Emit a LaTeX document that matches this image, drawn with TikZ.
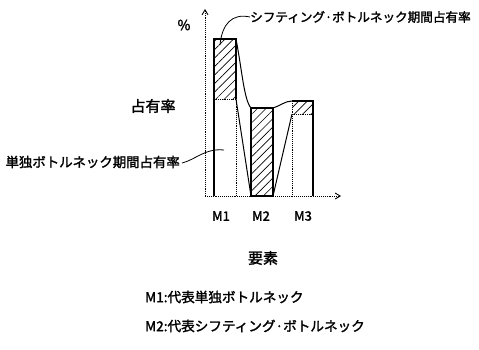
\documentclass[tikz,border=0pt]{standalone}
\usepackage{fontspec}
\setmainfont{Noto Sans CJK JP}[FakeBold=1.8]
\usetikzlibrary{patterns.meta,arrows.meta}
\begin{document}
\begin{tikzpicture}[x=1pt,y=-1pt,
  lbl/.style={inner sep=0pt,font=\fontsize{#1}{#1}\selectfont},
  lbl/.default=13,
  hatch/.style={pattern={Lines[angle=45,distance=6pt,line width=0.6pt]}},
  solidln/.style={line width=1.1pt},
  dotln/.style={line width=0.9pt,densely dotted},
  axisln/.style={line width=0.9pt,densely dotted,-{Straight Barb[length=5pt,width=6pt]}},
  conn/.style={line width=1pt},
  leader/.style={line width=0.8pt}]
\useasboundingbox (0,0) rectangle (479,349);
% key points
\coordinate (O) at (205,196);
\coordinate (Ytip) at (205,9);
\coordinate (Xtip) at (341,196);
\coordinate (m1bl) at (214,196);
\coordinate (m1tl) at (214,39);
\coordinate (m1tr) at (236,39);
\coordinate (m1sr) at (236,99);
\coordinate (m1sl) at (214,99);
\coordinate (m1br) at (236,196);
\coordinate (m2bl) at (251,196);
\coordinate (m2tl) at (251,108);
\coordinate (m2tr) at (273,108);
\coordinate (m2br) at (273,196);
\coordinate (m3bl) at (292,196);
\coordinate (m3tl) at (292,101);
\coordinate (m3tr) at (313,101);
\coordinate (m3br) at (313,196);
\coordinate (m3sl) at (292,114);
\coordinate (m3sr) at (313,114);
% axes
\draw[axisln] (O) -- (Ytip);
\draw[axisln] (O) -- (Xtip);
% M1
\fill[hatch] (m1tl) rectangle (m1sr);
\draw[solidln] (m1bl) -- (m1tl) -- (m1tr) -- (m1sr);
\draw[dotln] (m1sl) -- (m1sr) -- (m1br);
% M2
\fill[hatch] (m2tl) rectangle (m2br);
\draw[solidln] (m2bl) rectangle (m2tr);
% M3
\fill[hatch] (m3tl) rectangle (m3sr);
\draw[solidln] (m3tl) -- (m3tr) -- (m3br);
\draw[dotln] (m3tl) -- (m3bl);
\draw[dotln] (m3sl) -- (m3sr);
% connectors
\draw[conn] (m1tr) .. controls (242,70) and (244,100) .. (m2tl);
\draw[conn] (m1sr) -- (m2bl);
\draw[conn] (m2tr) .. controls (280,106) and (285,101) .. (m3tl);
\draw[conn] (m2br) -- (m3sl);
% labels
\node[lbl=14] (pct) at (184,25) {\%};
\node[lbl=12.6,anchor=west] (shift) at (250,17) {シフティング·ボトルネック期間占有率};
\draw[leader] (shift.west) .. controls (232,13) and (222,24) .. (220,45);
\node[lbl=13.4,anchor=east] (single) at (180,162) {単独ボトルネック期間占有率};
\draw[leader] (single.east) ++(2,1) coordinate (sle) .. controls (195,160) and (205,148) .. (224,150);
\node[lbl=15] (occ) at (153,106) {占有率};
\node[lbl=13] (M1) at (221,216) {M1};
\node[lbl=13] (M2) at (261,216) {M2};
\node[lbl=13] (M3) at (303,216) {M3};
\node[lbl=15] (elem) at (263,258) {要素};
\node[lbl=13.6,anchor=west] (leg1) at (145,297) {M1:代表単独ボトルネック};
\node[lbl=13.6,anchor=west] (leg2) at (145,326) {M2:代表シフティング·ボトルネック};
\end{tikzpicture}
\end{document}
